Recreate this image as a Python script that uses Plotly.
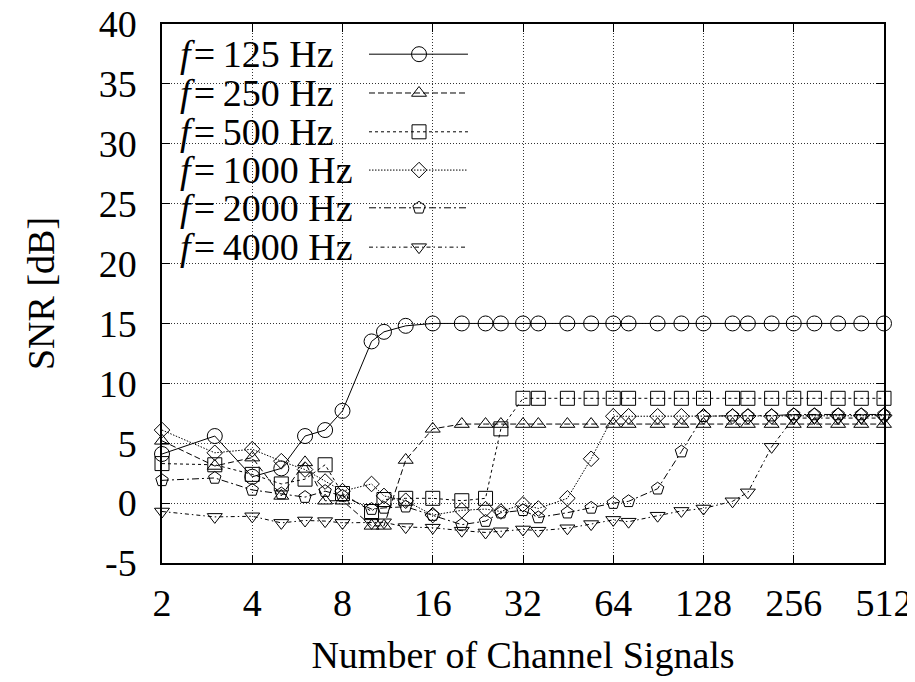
import math
import plotly.graph_objects as go

# ---- data ----
channels = [2, 3, 4, 5, 6, 7, 8, 10, 11, 13, 16, 20, 24, 27, 32, 36, 45, 54, 64, 72,
            90, 108, 128, 160, 180, 216, 256, 300, 360, 430, 512]

snr_125 = [4.1, 5.6, 2.2, 2.9, 5.6, 6.1, 7.7, 13.5, 14.3, 14.8, 15.0, 15.0, 15.0, 15.0, 15.0, 15.0,
           15.0, 15.0, 15.0, 15.0, 15.0, 15.0, 15.0, 15.0, 15.0, 15.0, 15.0, 15.0, 15.0, 15.0, 15.0]
snr_250 = [5.2, 3.1, 3.8, 0.6, 3.4, 0.2, 0.2, -1.9, -1.9, 3.6, 6.2, 6.6, 6.6, 6.6, 6.6, 6.6,
           6.6, 6.6, 6.6, 6.6, 6.6, 6.6, 6.6, 6.6, 6.6, 6.6, 6.6, 6.6, 6.6, 6.6, 6.6]
snr_500 = [3.3, 3.2, 2.4, 1.6, 2.0, 3.2, 0.8, -0.7, 0.3, 0.4, 0.4, 0.2, 0.4, 6.2, 8.75, 8.75,
           8.75, 8.75, 8.75, 8.75, 8.75, 8.75, 8.75, 8.75, 8.75, 8.75, 8.75, 8.75, 8.75, 8.75, 8.75]
snr_1000 = [6.1, 4.2, 4.5, 3.5, 2.8, 1.8, 1.0, 1.6, 0.6, 0.2, -1.0, -0.6, -0.5, -0.7, -0.1, -0.45,
            0.4, 3.7, 7.25, 7.25, 7.25, 7.25, 7.25, 7.25, 7.25, 7.25, 7.3, 7.3, 7.3, 7.3, 7.3]
snr_2000 = [1.9, 2.1, 1.1, 0.8, 0.5, 1.0, 0.6, -0.5, -0.4, -0.3, -1.0, -1.8, -1.5, -0.8, -0.6, -1.2,
            -0.8, -0.4, 0.0, 0.15, 1.2, 4.3, 7.25, 7.3, 7.3, 7.3, 7.4, 7.4, 7.4, 7.4, 7.4]
snr_4000 = [-0.7, -1.15, -1.1, -1.65, -1.45, -1.5, -1.65, -1.65, -1.6, -2.0, -2.05, -2.3, -2.45, -2.35,
            -2.2, -2.3, -2.1, -1.75, -1.4, -1.55, -1.05, -0.65, -0.45, 0.15, 0.9, 4.7, 7.1, 7.1, 7.1,
            7.1, 7.1]

series_names = ["125", "250", "500", "1000", "2000", "4000"]
series_values = [snr_125, snr_250, snr_500, snr_1000, snr_2000, snr_4000]

x_ticks = [2, 4, 8, 16, 32, 64, 128, 256, 512]
x_ticktext = ["2", "4", "8", "16", "32", "64", "128", "256", "512"]
y_ticks = [-5, 0, 5, 10, 15, 20, 25, 30, 35, 40]
y_ticktext = ["-5", "0", "5", "10", "15", "20", "25", "30", "35", "40"]

# ---- styles ----
symbols = ["circle-open", "triangle-up-open", "square-open", "diamond-open",
           "pentagon-open", "triangle-down-open"]
dashes = ["solid", "6px,3px", "3px,3px", "1.5px,1.5px", "7px,3px,2px,3px", "4px,3px,1.5px,3px"]
msizes = [15, 13, 14, 12, 13, 13]
FONT = "Liberation Serif, Times New Roman, Tinos, DejaVu Serif, serif"
FS = 38

fig = go.Figure()

for name, vals, sym, dash, ms in zip(series_names, series_values, symbols, dashes, msizes):
    fig.add_trace(go.Scatter(
        x=channels, y=vals, mode="lines+markers", name=f"f={name} Hz",
        line=dict(color="black", width=1, dash=dash),
        marker=dict(symbol=sym, size=ms, color="black", line=dict(width=1, color="black")),
        showlegend=False, cliponaxis=False,
    ))

# ---- gnuplot-style key (text left, sample right) ----
row_y = [0.944, 0.872, 0.800, 0.729, 0.659, 0.586]
for name, sym, dash, ms, ry in zip(series_names, symbols, dashes, msizes, row_y):
    fig.add_trace(go.Scatter(
        x=[0.2867, 0.4238], y=[ry, ry], mode="lines", xaxis="x2", yaxis="y2",
        line=dict(color="black", width=1, dash=dash), showlegend=False, hoverinfo="skip"))
    fig.add_trace(go.Scatter(
        x=[0.356], y=[ry], mode="markers", xaxis="x2", yaxis="y2",
        marker=dict(symbol=sym, size=ms, color="black", line=dict(width=1, color="black")),
        showlegend=False, hoverinfo="skip"))
    fig.add_annotation(
        x=0.022, y=ry, xref="x2", yref="y2", xanchor="left", yanchor="middle",
        text="<i>f</i>\u200a=\u2009" + name + " Hz", showarrow=False,
        font=dict(family=FONT, size=FS, color="black"))

# white box hiding grid behind the key
fig.add_shape(type="rect", xref="paper", yref="paper", x0=0.003, x1=0.455, y0=0.55, y1=0.99,
              fillcolor="white", line=dict(width=0), layer="between")

axis_common = dict(
    showline=True, linecolor="black", linewidth=1.5, mirror="ticks",
    ticks="inside", ticklen=8, tickcolor="black", tickwidth=1,
    showgrid=True, gridcolor="#333333", griddash="1px,2px", gridwidth=1,
    zeroline=False, automargin=False, ticklabeloverflow="allow",
    tickfont=dict(family=FONT, size=FS, color="black"),
    title_font=dict(family=FONT, size=FS, color="black"),
)

fig.update_layout(
    width=915, height=682,
    margin=dict(l=154, r=39, t=16, b=127, autoexpand=False),
    plot_bgcolor="white", paper_bgcolor="white",
    showlegend=False,
    xaxis=dict(type="log", range=[math.log10(2) - 1e-6, math.log10(512) + 1e-6],
               tickvals=x_ticks, ticktext=x_ticktext,
               title=dict(text="Number of Channel Signals", standoff=18), ticklabelstandoff=6,
               **axis_common),
    yaxis=dict(range=[-5, 40 + 1e-6], tickvals=y_ticks, ticktext=y_ticktext,
               title=dict(text="SNR [dB]", standoff=32), ticklabelstandoff=16,
               **axis_common),
    xaxis2=dict(range=[0, 1], overlaying="x", visible=False, anchor="y2", automargin=False),
    yaxis2=dict(range=[0, 1], overlaying="y", visible=False, anchor="x2", automargin=False),
)

fig.write_html("out.html")
